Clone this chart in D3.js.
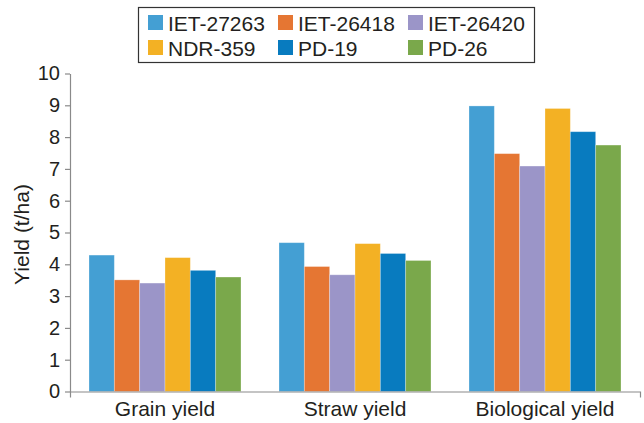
<!DOCTYPE html>
<html>
<head>
<meta charset="utf-8">
<script src="https://cdn.jsdelivr.net/npm/d3@7"></script>
<style>
  html, body { margin: 0; padding: 0; background: #fff; }
  svg { display: block; font-family: "Liberation Sans", Arial, sans-serif; }
</style>
</head>
<body>
<svg id="chart" width="644" height="423"></svg>
<script>
// ---- data ----
const categories = ["Grain yield", "Straw yield", "Biological yield"];
const seriesNames = ["IET-27263", "IET-26418", "IET-26420", "NDR-359", "PD-19", "PD-26"];
const ietA = [4.29, 4.68, 8.98];   // IET-27263
const ietB = [3.51, 3.93, 7.48];   // IET-26418
const ietC = [3.41, 3.67, 7.09];   // IET-26420
const ndr  = [4.21, 4.65, 8.90];   // NDR-359
const pd19 = [3.81, 4.34, 8.17];   // PD-19
const pd26 = [3.60, 4.12, 7.75];   // PD-26
const yTicks = [0, 1, 2, 3, 4, 5, 6, 7, 8, 9, 10];
const colors = ["#449fd3", "#e57633", "#9b95c8", "#f3b124", "#087bbf", "#7aa84b"];

const seriesValues = [ietA, ietB, ietC, ndr, pd19, pd26];
const table = categories.map((c, i) => ({
  category: c,
  values: seriesNames.map((s, j) => ({ series: s, value: seriesValues[j][i] }))
}));

// ---- layout ----
const svg = d3.select("#chart");
const mLeft = 70, mRight = 640, mTop = 73.5, mBottom = 391.5;
const textColor = "#231f20";
const axisColor = "#8a8a8a";

const x0 = d3.scaleBand().domain(categories).range([mLeft, mRight]).paddingInner(0).paddingOuter(0);
const x1 = d3.scaleBand().domain(seriesNames).range([0, x0.bandwidth()]).paddingInner(0).paddingOuter(0.75);
const y = d3.scaleLinear().domain([0, 10]).range([mBottom, mTop]);
const color = d3.scaleOrdinal().domain(seriesNames).range(colors);

// bars
const groups = svg.append("g").selectAll("g").data(table).join("g")
  .attr("transform", d => `translate(${x0(d.category)},0)`);
groups.selectAll("rect").data(d => d.values).join("rect")
  .attr("x", d => x1(d.series))
  .attr("y", d => y(d.value))
  .attr("width", x1.bandwidth())
  .attr("height", d => y(0) - y(d.value))
  .attr("fill", d => color(d.series))
  .attr("stroke", "rgba(255,255,255,0.35)")
  .attr("stroke-width", 0.8);

// y axis
const yAxis = svg.append("g")
  .attr("transform", `translate(${mLeft},0)`)
  .call(d3.axisLeft(y).tickValues(yTicks).tickFormat(d3.format("d")).tickSize(5).tickSizeOuter(0).tickPadding(5));
yAxis.select(".domain").attr("stroke", axisColor).attr("stroke-width", 1.2);
yAxis.selectAll(".tick line").attr("stroke", axisColor).attr("stroke-width", 1.2);
yAxis.selectAll(".tick text").attr("fill", textColor).style("font-size", "20px")
  .style("font-family", "'Liberation Sans', Arial, sans-serif");

// x axis
const xAxis = svg.append("g")
  .attr("transform", `translate(0,${mBottom})`)
  .call(d3.axisBottom(x0).tickSize(0).tickSizeOuter(6).tickPadding(10));
xAxis.select(".domain").attr("stroke", axisColor).attr("stroke-width", 1.2);
xAxis.selectAll(".tick text").attr("fill", textColor).style("font-size", "21px")
  .style("font-family", "'Liberation Sans', Arial, sans-serif");

// y title
svg.append("text")
  .attr("transform", `translate(29,${(mTop + mBottom) / 2 + 2}) rotate(-90)`)
  .attr("text-anchor", "middle")
  .attr("fill", textColor)
  .style("font-size", "21px")
  .text("Yield (t/ha)");

// legend
const legend = svg.append("g");
legend.append("rect")
  .attr("x", 138.5).attr("y", 7.5).attr("width", 396).attr("height", 55)
  .attr("fill", "#fff").attr("stroke", "#333").attr("stroke-width", 1.2);
const items = legend.selectAll("g.item").data(seriesNames).join("g")
  .attr("class", "item")
  .attr("transform", (d, i) => `translate(${148 + (i % 3) * 130},${15 + Math.floor(i / 3) * 25})`);
items.append("rect").attr("width", 15).attr("height", 15).attr("fill", d => color(d));
items.append("text")
  .attr("x", 20).attr("y", 15.5)
  .attr("fill", textColor)
  .style("font-size", "21px")
  .text(d => d);
</script>
</body>
</html>
